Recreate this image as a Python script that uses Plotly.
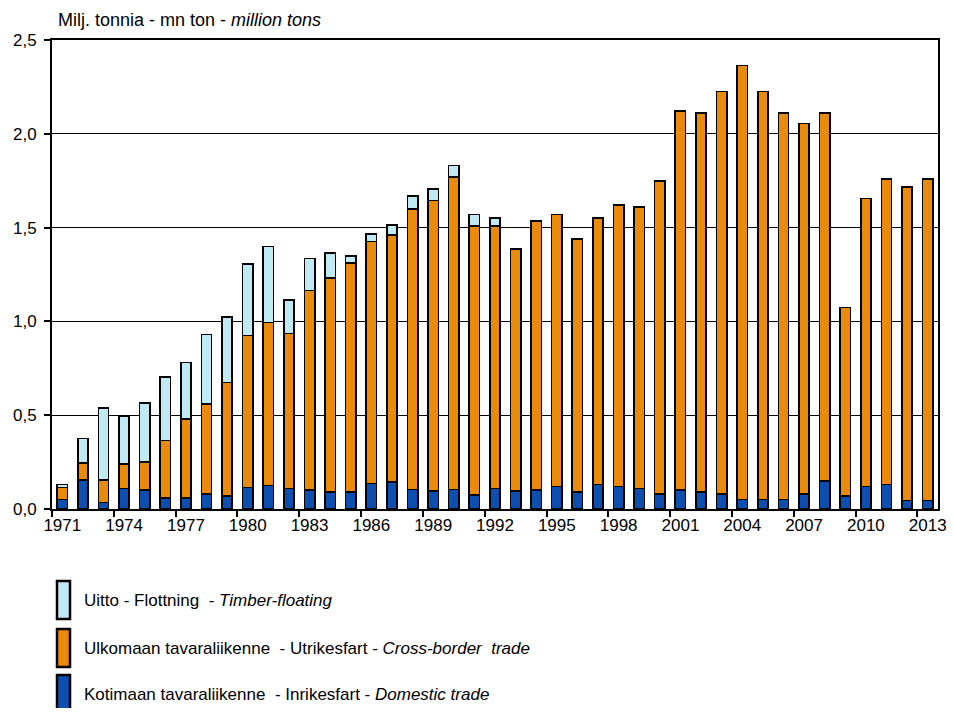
import plotly.graph_objects as go

years = [str(y) for y in range(1971, 2014)]

domestic = [0.05, 0.155, 0.035, 0.11, 0.10, 0.06, 0.06, 0.08, 0.07, 0.115,
            0.125, 0.11, 0.10, 0.09, 0.09, 0.135, 0.145, 0.105, 0.095, 0.105,
            0.075, 0.11, 0.095, 0.10, 0.12, 0.09, 0.13, 0.12, 0.11, 0.08,
            0.10, 0.09, 0.08, 0.05, 0.05, 0.05, 0.08, 0.15, 0.07, 0.12,
            0.13, 0.045, 0.045]

cross_border = [0.065, 0.09, 0.12, 0.13, 0.15, 0.305, 0.42, 0.48, 0.605, 0.81,
                0.87, 0.825, 1.065, 1.14, 1.22, 1.29, 1.315, 1.495, 1.55, 1.665,
                1.435, 1.40, 1.29, 1.435, 1.45, 1.35, 1.42, 1.50, 1.50, 1.67,
                2.02, 2.02, 2.145, 2.315, 2.175, 2.06, 1.975, 1.96, 1.005, 1.535,
                1.63, 1.67, 1.715]

floating = [0.015, 0.13, 0.385, 0.255, 0.315, 0.34, 0.30, 0.37, 0.35, 0.38,
            0.405, 0.18, 0.17, 0.135, 0.04, 0.04, 0.055, 0.07, 0.06, 0.06,
            0.06, 0.04, 0, 0, 0, 0, 0, 0, 0, 0,
            0, 0, 0, 0, 0, 0, 0, 0, 0, 0,
            0, 0, 0]

y_ticks = [0, 0.5, 1.0, 1.5, 2.0, 2.5]

names = [
    "Kotimaan tavaraliikenne  - Inrikesfart - <i>Domestic trade</i>",
    "Ulkomaan tavaraliikenne  - Utrikesfart - <i>Cross-border  trade</i>",
    "Uitto - Flottning  - <i>Timber-floating</i>",
]
colors = ["#0D4FAE", "#EA8A0B", "#BFE9F3"]
series = [domestic, cross_border, floating]

FONT = "Liberation Sans, Arial, sans-serif"

fig = go.Figure()
for name, col, vals in zip(names, colors, series):
    fig.add_trace(go.Bar(
        x=years, y=vals, name=name,
        marker=dict(color=col, line=dict(color="black", width=1.6)),
        width=0.5, showlegend=False,
    ))

# page has an 8px body margin; figure coordinates = page coordinates - 8
OFF = 8
W, H = 938, 700
L, R, T, B = 52 - OFF, 8, 40 - OFF, 199
plot_h = H - T - B
plot_w = W - L - R

fig.update_layout(
    width=W, height=H,
    barmode="stack",
    separators=", ",
    plot_bgcolor="white", paper_bgcolor="white",
    margin=dict(l=L, r=R, t=T, b=B, pad=0),
    font=dict(family=FONT, size=17, color="black"),
    xaxis=dict(
        type="category", dtick=3, tickson="boundaries", tickangle=0,
        ticks="outside", ticklen=6, tickwidth=1.5, tickcolor="black",
        showline=True, linecolor="black", linewidth=2, mirror=True,
        showgrid=False, tickfont=dict(size=17), automargin=False,
    ),
    yaxis=dict(
        range=[0, 2.5], tickvals=y_ticks, tickformat=".1f",
        ticks="outside", ticklen=6, tickwidth=1.5, tickcolor="black",
        showline=True, linecolor="black", linewidth=2, mirror=True,
        showgrid=True, gridcolor="black", gridwidth=1,
        zeroline=False, tickfont=dict(size=17), automargin=False,
        ticklabelstandoff=4,
    ),
)

def y_paper(py):
    return (H - B - (py - OFF)) / plot_h

def x_paper(px):
    return (px - OFF - L) / plot_w

fig.add_annotation(
    text="Milj. tonnia - mn ton - <i>million tons</i>",
    xref="paper", yref="paper", x=x_paper(56), y=y_paper(20),
    xanchor="left", yanchor="middle", showarrow=False,
    font=dict(size=18),
)

# custom legend (tall swatches) below the plot
legend_items = [(names[2], colors[2], 600), (names[1], colors[1], 648), (names[0], colors[0], 694)]
for name, col, cy in legend_items:
    fig.add_shape(type="rect", xref="paper", yref="paper",
                  x0=x_paper(57), x1=x_paper(70), y0=y_paper(cy + 19), y1=y_paper(cy - 19),
                  fillcolor=col, line=dict(color="black", width=2.5))
    fig.add_annotation(text=name, xref="paper", yref="paper",
                       x=x_paper(82), y=y_paper(cy), xanchor="left", yanchor="middle",
                       showarrow=False, font=dict(size=17))

fig.write_html("out.html")
